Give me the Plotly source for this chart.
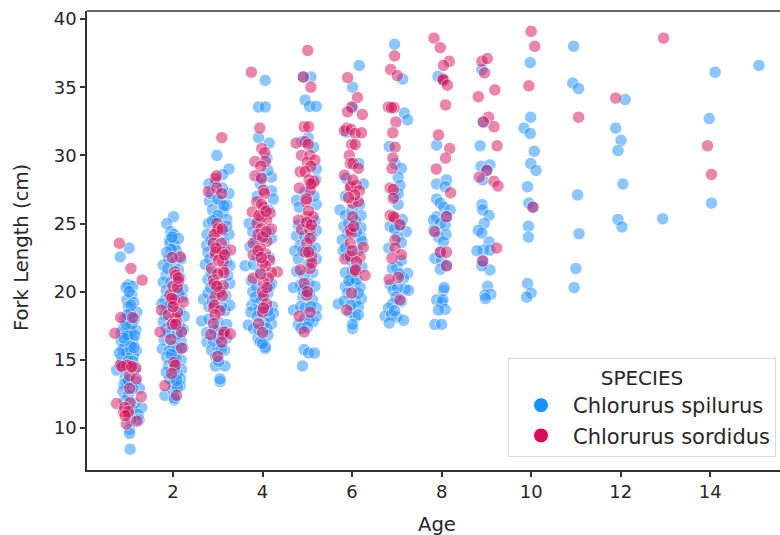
import plotly.graph_objects as go

x_ticks = [2, 4, 6, 8, 10, 12, 14]
y_ticks = [10, 15, 20, 25, 30, 35, 40]
species = ["Chlorurus spilurus", "Chlorurus sordidus"]
x_label = "Age"
y_label = "Fork Length (cm)"
legend_title = "SPECIES"

# (age with jitter, fork length)
spilurus_1 = [(1.02,23.2),(0.82,22.55),(1.0,20.5),(1.1,20.4),(0.95,20.3),(1.08,19.75),(0.97,19.4),(1.12,19.2),(1.0,18.9),(1.19,18.5),(1.05,18.4),(0.92,18.0),
(1.04,17.2),(1.05,17.1),(0.9,17.4),(1.17,17.2),(0.84,17.0),(0.96,16.9),(1.11,16.45),(0.84,16.4),(1.02,16.3),(0.92,16.0),(0.88,15.8),(1.18,15.7),(1.05,15.6),(1.12,15.3),(0.86,15.2),(0.98,15.1),
(0.74,14.25),(0.9,14.4),(1.15,14.3),(0.93,13.7),(0.9,13.2),(1.16,13.4),(0.88,12.7),(1.0,12.4),(1.25,12.9),(0.92,12.0),(1.14,11.8),(1.3,11.5),(1.1,11.3),(1.22,11.0),(1.24,10.6),(1.05,10.6),(1.03,9.9),(1.03,9.6),(1.04,8.45),
(1.0,16.8),(1.08,17.6),(0.95,17.6),(1.14,16.8),(0.9,16.6),(1.06,16.0),(0.96,15.5),(1.13,15.9),(0.8,15.5),(0.84,14.8),(1.0,14.9),(1.1,14.9),(0.95,13.3),(1.1,12.9),(1.0,13.5),(1.06,19.0),(1.02,20.0),(0.98,18.3),(1.14,18.0)]
sordidus_1 = [(0.8,23.55),(1.06,21.7),(1.31,20.85),(0.83,18.1),(1.1,18.1),(0.7,16.95),(0.82,14.6),(1.04,14.55),(1.17,14.4),(1.03,13.85),(1.18,13.6),(1.03,12.9),(1.29,12.3),(1.04,11.85),(0.74,11.8),(0.89,11.2),(1.0,11.05),(0.96,10.3),(1.19,10.5),(0.97,14.6),(0.86,14.5),(1.08,14.5),(0.92,11.5),(1.0,11.2),(0.93,10.9)]

spilurus_2 = [(2.01,25.5),(1.86,25.0),(1.95,24.4),(2.02,24.2),(1.93,23.8),(1.93,23.55),(2.03,23.4),(2.12,23.9),(1.78,21.95),(1.9,22.4),(2.05,22.2),(2.18,22.4),(1.84,21.2),(2.16,21.0),(1.78,20.7),(1.85,20.1),(2.22,20.2),(1.95,20.7),(1.82,19.4),(2.0,19.7),(2.2,19.6),(1.75,19.1),(1.86,18.9),(2.15,18.6),(1.82,18.3),(2.25,18.2),(1.78,17.8),(2.15,17.5),(1.85,17.3),(2.0,17.6),(2.23,17.2),(1.8,16.5),(2.02,16.6),(2.18,16.4),(1.76,15.8),(1.92,15.7),(2.1,15.7),(2.22,15.9),(1.86,15.2),(2.05,15.3),(2.18,15.0),(1.9,14.6),(2.19,14.3),(1.85,14.1),(2.1,14.0),(2.17,13.6),(2.02,13.3),(2.16,13.1),(1.82,12.4),(2.0,12.8),(2.03,12.05),(2.03,12.2),(2.1,13.0),
(1.98,24.0),(2.07,23.0),(1.96,23.1),(1.86,22.9),(2.12,21.6),(1.88,21.7),(1.93,19.0),(2.13,19.9),(1.9,17.0),(2.1,16.9),(2.0,16.0),(2.07,15.0),(1.96,15.4),(2.03,14.3),(1.92,13.6),(2.08,13.5)]
sordidus_2 = [(2.16,22.55),(1.98,22.5),(2.04,21.45),(2.06,21.2),(2.12,20.75),(1.93,19.75),(2.01,19.15),(2.03,19.4),(2.23,19.25),(1.74,18.65),(2.08,17.9),(2.05,18.1),(1.9,18.3),(1.71,17.05),(2.19,17.05),(1.95,16.5),(2.19,15.85),(2.02,14.8),(2.05,14.6),(1.97,14.0),(1.82,13.1),(2.08,12.4),(1.98,17.6),(2.0,20.4),(2.1,20.3),(1.97,19.5),(2.1,18.5),(2.06,17.6),(2.0,18.9),(2.12,21.0)]

spilurus_3 = [(2.98,30.0),(3.25,29.0),(3.11,28.6),(2.95,28.0),(2.8,27.9),(3.25,27.2),(2.81,26.65),(3.05,26.6),(3.2,26.35),(2.88,26.0),(3.12,25.85),(3.2,25.3),(2.79,25.0),(2.95,25.3),(2.76,24.2),(3.1,24.4),(3.25,24.2),(2.75,23.4),(3.14,23.6),(2.78,22.9),(3.2,22.2),(2.72,22.0),(3.27,21.9),(2.78,20.9),(3.27,20.6),(2.68,19.45),(2.78,19.9),(2.96,20.0),(3.18,19.7),(2.8,18.9),(3.16,18.6),(3.27,19.0),(2.64,17.85),(2.8,18.0),(3.0,17.8),(3.2,17.6),(2.75,17.0),(3.0,17.1),(3.2,16.6),(2.76,16.3),(3.0,16.0),(2.86,15.7),(3.15,15.7),(2.95,15.2),(2.95,14.55),(3.16,14.55),(3.05,13.4),(3.05,13.6),(3.02,14.9),
(2.85,27.2),(3.1,27.6),(3.0,26.8),(3.14,26.3),(3.0,25.6),(2.88,25.2),(3.2,24.8),(2.85,23.8),(2.82,22.4),(3.18,22.9),(2.85,21.4),(3.22,21.2),(2.84,20.3),(3.08,20.2),(2.88,19.3),(3.08,18.9),(2.92,17.2),(3.15,17.0),(2.9,16.4),(3.08,15.8),(3.02,16.6)]
sordidus_3 = [(3.09,31.3),(2.94,28.3),(2.97,28.5),(2.79,27.35),(2.98,27.6),(3.09,27.2),(2.98,25.0),(2.98,24.4),(3.0,24.6),(2.92,24.2),(3.1,24.6),(2.9,23.55),(3.08,23.55),(3.29,23.05),(2.94,22.7),(2.95,22.9),(3.1,22.9),(3.12,22.2),(2.86,21.7),(3.12,21.6),(3.14,21.4),(2.9,20.85),(2.92,20.6),(3.12,20.45),(3.05,20.0),(2.94,19.65),(3.1,19.7),(2.9,18.8),(2.92,19.0),(3.05,18.6),(2.94,18.3),(2.9,17.65),(3.12,16.85),(3.14,17.05),(2.84,16.85),(3.28,16.9),(3.09,16.3),(3.0,15.25),(2.96,23.2),(3.0,21.3),(3.02,22.3),(2.98,20.4),(3.15,22.7)]

spilurus_4 = [(4.06,35.5),(3.91,33.55),(4.06,33.55),(3.91,31.3),(4.15,30.9),(4.1,29.8),(4.2,28.4),(4.12,28.9),(3.95,27.9),(4.2,27.4),(4.24,26.8),(3.88,27.0),(3.7,25.0),(3.78,24.4),(4.14,24.4),(4.2,23.9),(3.85,23.8),(3.72,23.3),(3.61,21.9),(4.15,22.5),(3.8,22.0),(3.75,20.8),(4.2,20.6),(3.78,20.0),(4.12,19.9),(3.91,19.1),(3.76,19.0),(4.22,18.9),(3.74,18.5),(4.24,18.4),(3.92,18.6),(3.68,17.55),(3.8,17.3),(4.2,17.65),(4.1,17.3),(4.05,17.7),(3.9,16.6),(4.12,16.8),(3.95,16.3),(4.06,16.0),(4.06,15.85),(4.0,16.2),
(3.96,28.4),(4.14,26.0),(3.9,25.2),(4.05,24.0),(3.88,22.6),(3.94,21.4),(4.16,20.4),(3.87,20.3),(3.98,19.4),(4.16,18.2),(3.88,18.2),(3.92,17.2),(4.12,18.6),(3.84,19.6)]
sordidus_4 = [(3.75,36.1),(3.94,32.0),(3.98,30.5),(4.05,30.2),(3.83,29.55),(4.06,29.55),(3.96,29.2),(3.83,28.5),(3.98,28.3),(4.02,27.45),(4.04,27.2),(3.87,26.6),(4.02,26.2),(3.98,26.4),(3.77,25.85),(4.17,25.75),(3.98,25.5),(4.09,25.25),(3.87,25.0),(3.97,24.6),(4.2,24.6),(3.79,23.55),(4.1,23.7),(3.79,22.7),(4.06,22.8),(3.95,23.2),(4.16,22.3),(4.0,22.1),(4.33,21.45),(4.2,21.4),(4.13,21.0),(3.79,21.0),(4.02,20.7),(4.0,20.0),(4.02,19.7),(4.09,19.1),(4.0,18.5),(4.02,18.8),(3.91,17.65),(4.0,17.0),(3.92,25.6),(4.08,25.9),(3.9,24.2),(4.0,24.0),(3.9,23.0),(4.08,24.4),(4.06,21.9),(3.96,21.3),(4.1,20.3),(3.97,22.5)]

spilurus_5 = [(5.08,35.75),(4.91,35.75),(4.95,34.05),(5.05,33.6),(5.2,33.6),(4.88,31.0),(5.02,31.3),(5.14,30.6),(5.2,29.0),(5.19,28.2),(5.2,26.4),(5.15,27.0),(4.76,26.7),(4.82,26.2),(5.17,25.2),(4.8,24.9),(5.2,24.5),(4.76,24.1),(5.1,24.0),(4.84,23.4),(5.18,23.2),(4.72,23.0),(4.8,22.4),(5.2,22.4),(4.76,21.5),(5.12,21.4),(4.85,20.5),(4.69,20.3),(5.03,20.6),(5.17,20.4),(4.9,19.6),(5.12,19.4),(4.69,18.65),(4.85,18.9),(5.2,18.8),(5.13,17.8),(5.2,18.2),(4.8,17.6),(4.94,18.0),(5.04,17.9),(4.86,17.3),(5.0,17.4),(4.93,15.75),(5.03,15.5),(5.16,15.5),(4.89,14.55),
(4.95,27.3),(5.0,25.0),(4.9,23.0),(5.02,22.0),(4.92,21.2),(5.05,19.9),(4.95,18.8),(5.08,18.9),(4.9,20.1),(5.08,23.1),(4.94,24.1)]
sordidus_5 = [(5.01,37.7),(4.91,35.75),(5.08,35.0),(4.93,32.1),(5.03,32.1),(4.75,30.9),(4.95,31.0),(5.02,30.8),(4.87,30.0),(5.06,30.0),(5.0,29.5),(5.17,29.65),(5.08,29.2),(4.84,28.8),(4.95,28.8),(5.13,27.95),(5.15,28.1),(5.06,27.45),(4.82,27.6),(4.97,26.6),(4.98,26.8),(4.99,25.5),(4.8,25.25),(5.13,25.5),(4.87,24.55),(5.06,24.55),(4.99,23.55),(5.1,22.55),(4.95,22.9),(5.06,21.7),(5.1,22.1),(4.84,21.6),(4.93,20.6),(4.99,19.75),(5.0,20.0),(5.06,18.5),(4.82,18.2),(4.93,17.05),(5.04,28.2),(5.08,27.9),(5.03,25.9),(4.98,25.1),(5.09,24.9),(5.06,23.9),(5.03,22.9)]

spilurus_6 = [(6.16,36.6),(6.01,35.0),(6.02,33.5),(5.88,31.7),(6.15,29.4),(5.87,28.3),(6.25,27.9),(5.85,27.0),(5.73,26.0),(6.17,26.4),(5.85,25.6),(6.2,25.6),(5.82,24.8),(6.2,24.7),(5.9,24.3),(6.19,24.0),(5.78,23.8),(5.8,23.0),(6.22,23.7),(5.85,23.2),(6.0,22.2),(5.98,21.0),(5.85,21.4),(6.22,21.8),(6.07,20.6),(5.85,20.4),(6.18,20.3),(5.9,19.9),(6.21,19.5),(5.69,19.1),(5.82,19.3),(6.08,19.3),(6.14,18.9),(5.95,18.5),(6.07,18.15),(6.14,18.3),(5.97,19.0),(6.01,17.3),(6.01,17.6),
(6.0,21.5),(6.1,20.9),(5.93,20.8),(6.1,24.4),(6.0,26.0),(5.92,25.0),(6.08,25.2),(5.9,22.6),(6.12,23.0),(6.14,19.9)]
sordidus_6 = [(5.9,35.7),(6.12,34.25),(5.99,33.55),(5.9,33.2),(6.23,33.0),(5.88,32.0),(5.83,31.8),(5.98,31.9),(6.07,31.6),(6.21,31.65),(5.99,30.8),(6.07,30.8),(5.94,30.0),(5.96,29.4),(6.02,29.4),(6.14,29.05),(5.83,28.55),(5.96,27.6),(5.97,27.7),(6.1,27.8),(6.16,27.4),(6.01,26.5),(6.14,26.6),(6.01,25.5),(5.96,24.55),(5.98,24.3),(5.96,23.55),(6.25,23.25),(5.84,22.4),(5.96,22.6),(6.18,22.55),(6.1,22.2),(6.07,21.5),(6.08,21.6),(6.29,21.2),(5.99,19.9),(5.88,18.65),(6.02,28.2),(6.06,27.1),(5.92,26.9),(6.0,23.0),(6.04,24.8)]

spilurus_7 = [(6.95,38.15),(7.13,35.6),(7.17,33.1),(7.24,32.6),(6.83,30.65),(6.96,29.4),(7.1,29.05),(7.03,28.4),(7.07,27.8),(7.03,26.4),(6.95,27.0),(7.21,24.4),(6.85,24.8),(7.07,24.9),(7.02,24.0),(7.1,23.6),(6.82,23.2),(7.0,21.8),(6.9,21.7),(7.24,21.35),(7.15,21.0),(6.85,20.5),(6.92,20.1),(7.18,20.2),(7.26,20.1),(7.02,20.3),(6.98,19.6),(7.1,19.3),(6.9,19.1),(6.81,18.8),(6.74,18.2),(6.88,18.3),(7.0,18.15),(7.15,17.9),(6.83,17.7),(6.95,18.6),(7.03,27.2),(7.1,22.3),(6.95,24.6),(7.12,25.3),(7.05,21.3)]
sordidus_7 = [(6.95,37.3),(6.86,36.3),(7.01,35.85),(6.81,33.55),(6.94,33.5),(6.88,33.5),(6.98,32.45),(6.91,31.65),(6.96,30.6),(6.91,29.8),(6.89,29.05),(6.85,27.6),(6.92,27.5),(6.92,26.85),(6.85,25.6),(6.96,25.4),(6.92,25.5),(7.07,24.9),(6.96,23.8),(6.96,23.2),(7.1,22.7),(6.89,22.45),(7.03,21.05),(6.83,20.9),(7.07,19.4)]

spilurus_8 = [(7.92,35.8),(8.04,35.5),(7.89,30.75),(7.89,27.9),(8.11,28.2),(8.08,27.7),(7.89,26.8),(7.97,26.5),(8.05,26.2),(8.19,26.0),(7.89,25.5),(8.11,25.5),(7.82,25.25),(7.97,25.0),(8.08,24.9),(7.82,24.5),(7.93,24.0),(8.1,24.2),(8.04,23.65),(7.97,22.9),(7.85,22.45),(8.0,22.3),(8.11,21.9),(7.97,21.65),(8.04,20.1),(8.06,20.3),(7.89,19.4),(8.0,19.2),(8.03,19.4),(8.08,18.7),(7.93,18.65),(7.85,17.6),(8.0,17.6)]
sordidus_8 = [(7.83,38.6),(7.97,37.9),(8.17,36.9),(8.04,36.6),(8.04,35.5),(8.03,35.6),(8.13,35.15),(8.09,33.7),(7.93,31.5),(8.18,30.5),(8.09,29.8),(7.88,29.0),(8.2,27.25),(8.11,25.5),(7.85,24.4),(7.97,22.9),(8.11,22.9),(8.11,21.9)]

spilurus_9 = [(8.9,36.3),(8.86,30.7),(8.93,32.45),(8.88,29.2),(9.08,29.3),(9.01,28.9),(8.92,28.2),(8.9,26.4),(8.92,26.0),(9.06,25.6),(8.95,25.0),(8.82,24.5),(8.9,24.3),(9.06,23.65),(8.93,23.05),(8.79,23.0),(9.08,23.05),(8.92,22.25),(9.08,21.6),(8.9,21.9),(9.03,20.4),(9.1,19.8),(8.97,19.75),(8.98,19.5)]
sordidus_9 = [(8.9,36.9),(9.02,37.1),(8.96,36.05),(8.82,34.3),(9.19,34.8),(9.05,32.8),(9.17,32.1),(9.24,30.7),(8.93,32.45),(9.01,28.9),(9.17,28.1),(9.26,27.75),(8.84,28.4),(9.23,23.2),(8.92,22.25)]

spilurus_10 = [(9.98,36.8),(9.99,32.8),(9.84,32.0),(9.98,31.6),(10.07,30.3),(9.99,29.4),(10.11,28.9),(9.92,27.7),(9.95,26.5),(10.04,26.2),(9.94,24.8),(9.94,24.0),(9.92,20.6),(10.0,19.9),(9.9,19.6)]
sordidus_10 = [(10.0,39.1),(10.08,38.0),(9.95,35.1),(10.04,26.2)]
spilurus_11 = [(10.95,38.0),(10.93,35.3),(11.06,34.9),(11.04,27.1),(11.07,24.25),(11.0,21.7),(10.96,20.3)]
sordidus_11 = [(11.06,32.8)]
spilurus_12 = [(12.1,34.1),(11.89,32.0),(12.01,31.1),(11.94,30.35),(12.05,27.9),(11.94,25.3),(12.03,24.75)]
sordidus_12 = [(11.89,34.2)]
spilurus_13 = [(12.94,25.35)]
sordidus_13 = [(12.96,38.6)]
spilurus_14 = [(14.11,36.1),(13.98,32.7),(14.03,26.5)]
sordidus_14 = [(13.94,30.7),(14.03,28.6)]
spilurus_15 = [(15.09,36.6)]

spilurus = (spilurus_1 + spilurus_2 + spilurus_3 + spilurus_4 + spilurus_5 + spilurus_6 + spilurus_7
            + spilurus_8 + spilurus_9 + spilurus_10 + spilurus_11 + spilurus_12 + spilurus_13 + spilurus_14 + spilurus_15)
sordidus = (sordidus_1 + sordidus_2 + sordidus_3 + sordidus_4 + sordidus_5 + sordidus_6 + sordidus_7
            + sordidus_8 + sordidus_9 + sordidus_10 + sordidus_11 + sordidus_12 + sordidus_13 + sordidus_14)

BLUE = "#1E8FFF"
RED = "#D5105A"
FONT = "DejaVu Sans"
INK = "#262626"

fig = go.Figure()
for name, pts, col in [(species[0], spilurus, BLUE), (species[1], sordidus, RED)]:
    fig.add_trace(go.Scatter(
        x=[p[0] for p in pts], y=[p[1] for p in pts], mode="markers", showlegend=False,
        marker=dict(size=12.5, color=col, opacity=0.5, line=dict(color="white", width=1)),
    ))
    fig.add_trace(go.Scatter(
        x=[None], y=[None], mode="markers", name=name,
        marker=dict(size=15, color=col, line=dict(color="white", width=1)),
    ))

axis_common = dict(showgrid=False, zeroline=False, showline=True, linecolor="#333333", linewidth=1.5,
                   ticks="outside", ticklen=5, tickwidth=1.5, tickcolor="#333333",
                   tickfont=dict(family=FONT, size=18, color=INK))
label_font = dict(family=FONT, size=19.6, color=INK)
fig.update_layout(
    width=780, height=535,
    margin=dict(l=87, r=0, t=11, b=65, autoexpand=False),
    paper_bgcolor="white", plot_bgcolor="white",
    font=dict(family=FONT, size=18, color=INK),
    xaxis=dict(range=[0.078, 15.56], tickvals=x_ticks, **axis_common),
    yaxis=dict(range=[6.92, 40.59], tickvals=y_ticks, **axis_common),
    shapes=[dict(type="line", xref="paper", yref="paper", x0=0, x1=1, y0=1, y1=1,
                 line=dict(color="#333333", width=1.5))],
    annotations=[
        dict(text=x_label, xref="paper", yref="paper", x=(437-87)/693, y=(470-524)/459,
             xanchor="center", yanchor="middle", showarrow=False, font=label_font),
        dict(text=y_label, xref="paper", yref="paper", x=(22-87)/693, y=(470-248)/459, textangle=-90,
             xanchor="center", yanchor="middle", showarrow=False, font=label_font),
    ],
    legend=dict(
        title=dict(text=legend_title, side="top center", font=dict(family=FONT, size=20, color=INK)),
        x=(508-87)/693, xanchor="left", y=(535-358)/535, yanchor="top", yref="container",
        bgcolor="rgba(255,255,255,0.8)", bordercolor="#d9d9d9", borderwidth=1,
        font=dict(family=FONT, size=21, color=INK), itemwidth=54, tracegroupgap=0,
        entrywidth=205, entrywidthmode="pixels",
    ),
)
fig.write_html("out.html", post_script="document.body.style.margin='0';",
               config={"displayModeBar": False})
